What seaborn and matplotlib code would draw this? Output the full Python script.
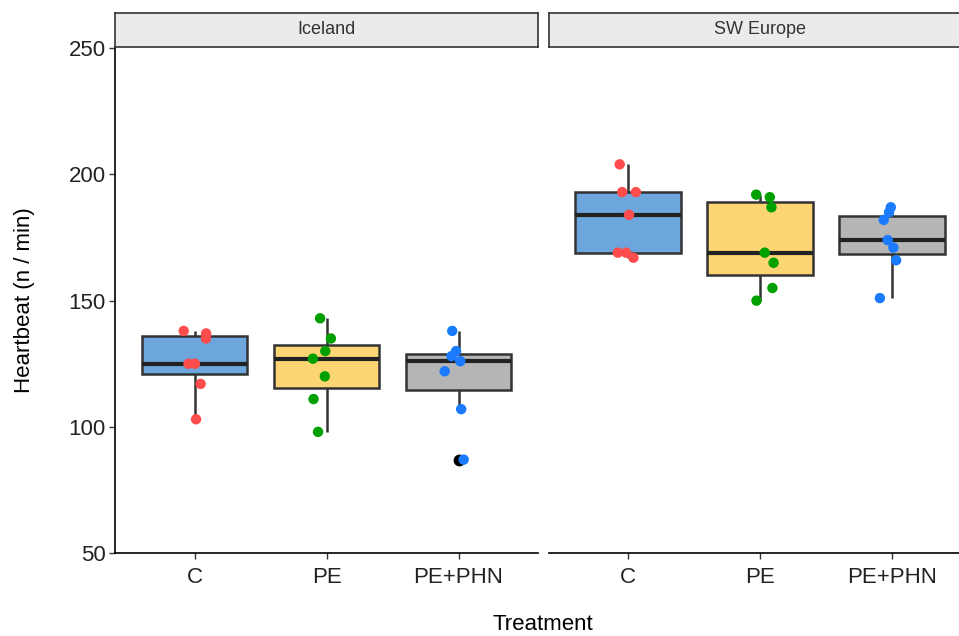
import numpy as np
import pandas as pd
import seaborn as sns
import matplotlib.pyplot as plt

# -------------------------------
# Data
# -------------------------------
treatments = ["C", "PE", "PE+PHN"]
regions = ["Iceland", "SW Europe"]

iceland_c = [103, 117, 125, 125, 135, 137, 138]
iceland_pe = [98, 111, 120, 127, 130, 135, 143]
iceland_pephn = [87, 107, 122, 126, 128, 130, 138]

sweu_c = [167, 169, 169, 184, 193, 193, 204]
sweu_pe = [150, 155, 165, 169, 187, 191, 192]
sweu_pephn = [151, 166, 171, 174, 182, 185, 187]

y_ticks = [50, 100, 150, 200, 250]

box_colors = ["#6CA6DC", "#FDD572", "#B5B5B5"]
point_colors = ["#FF4C4C", "#00A000", "#1A7BFF"]

rows = []
for region, groups in zip(regions, [[iceland_c, iceland_pe, iceland_pephn],
                                    [sweu_c, sweu_pe, sweu_pephn]]):
    for trt, vals in zip(treatments, groups):
        for v in vals:
            rows.append({"Region": region, "Treatment": trt, "Heartbeat": v})
df = pd.DataFrame(rows)

# -------------------------------
# Plot
# -------------------------------
sns.set_style("white")
plt.rcParams["font.family"] = ["Liberation Sans", "DejaVu Sans"]

W, H = 959, 636
fig = plt.figure(figsize=(W / 100, H / 100), dpi=100)

panel_w = 422.3
panel_left = [115.4, 548.6]
panel_bottom = 553
panel_top = 47
strip_top = 13

np.random.seed(3)
for i, region in enumerate(regions):
    ax = fig.add_axes([panel_left[i] / W, 1 - panel_bottom / H,
                       panel_w / W, (panel_bottom - panel_top) / H])
    sub = df[df["Region"] == region]
    sns.boxplot(data=sub, x="Treatment", y="Heartbeat", hue="Treatment",
                order=treatments, hue_order=treatments, palette=box_colors,
                legend=False, width=0.8, saturation=1, linewidth=1.8,
                linecolor="#333333",
                medianprops={"color": "#222222", "linewidth": 3},
                capprops={"linewidth": 0},
                flierprops={"marker": "o", "markerfacecolor": "black",
                            "markeredgecolor": "black", "markersize": 7.5},
                ax=ax)
    sns.stripplot(data=sub, x="Treatment", y="Heartbeat", hue="Treatment",
                  order=treatments, hue_order=treatments, palette=point_colors,
                  legend=False, jitter=0.11, size=7.5, linewidth=0, ax=ax)

    ax.set_xlim(-0.6, 2.6)
    ax.set_ylim(50, 250.5)
    ax.set_xlabel("")
    ax.set_ylabel("")
    for s in ["top", "right"]:
        ax.spines[s].set_visible(False)
    ax.spines["bottom"].set_color("black")
    ax.spines["bottom"].set_linewidth(1.2)
    ax.tick_params(axis="x", length=4, width=1, color="#333333",
                   labelsize=16, labelcolor="#222222", pad=6, bottom=True)
    if i == 0:
        ax.set_yticks(y_ticks)
        ax.spines["left"].set_color("black")
        ax.spines["left"].set_linewidth(1.2)
        ax.tick_params(axis="y", length=4, width=1, color="#333333",
                       labelsize=16, labelcolor="#222222", pad=3, left=True)
    else:
        ax.spines["left"].set_visible(False)
        ax.set_yticks([])

    # facet strip
    sax = fig.add_axes([panel_left[i] / W, 1 - panel_top / H,
                        panel_w / W, (panel_top - strip_top) / H])
    sax.set_facecolor("#EBEBEB")
    sax.set_xticks([])
    sax.set_yticks([])
    for s in sax.spines.values():
        s.set_color("#333333")
        s.set_linewidth(1.2)
    sax.text(0.5, 0.5, region, ha="center", va="center", fontsize=13,
             color="#333333", transform=sax.transAxes)

fig.text(25 / W, 1 - 300 / H, "Heartbeat (n / min)", rotation=90,
         ha="center", va="center", fontsize=16, color="black")
fig.text(543 / W, 1 - 625 / H, "Treatment", ha="center", va="center",
         fontsize=16, color="black")

fig.savefig("out.png", dpi=100)
